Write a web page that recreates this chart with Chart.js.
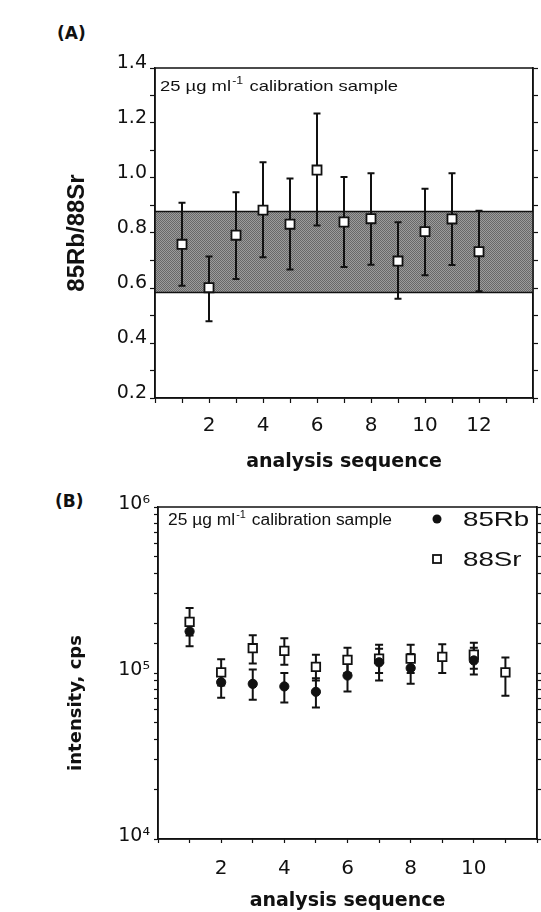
<!DOCTYPE html>
<html>
<head>
<meta charset="utf-8">
<script src="https://cdn.jsdelivr.net/npm/chart.js@4.4.1/dist/chart.umd.min.js"></script>
<style>
body{margin:0;background:#fff;width:541px;height:912px;overflow:hidden;position:relative;}
canvas{position:absolute;left:0;}
#chartA{top:0;}
#chartB{top:480px;}
.tag{position:absolute;font:bold 17px "DejaVu Sans";line-height:20px;color:#111;}
</style>
</head>
<body>
<div class="tag" style="left:57px;top:23px">(A)</div>
<div class="tag" style="left:55px;top:491px">(B)</div>
<canvas id="chartA" width="541" height="480"></canvas>
<canvas id="chartB" width="541" height="432"></canvas>
<script>
// ---------- panel A : 85Rb/88Sr ratio ----------
const seqA = [1, 2, 3, 4, 5, 6, 7, 8, 9, 10, 11, 12];
const ratio = [0.759, 0.601, 0.792, 0.883, 0.832, 1.029, 0.840, 0.852, 0.698, 0.805, 0.851, 0.732];
const ratioHi = [0.910, 0.715, 0.948, 1.057, 0.998, 1.235, 1.004, 1.017, 0.839, 0.961, 1.017, 0.881];
const ratioLo = [0.608, 0.479, 0.633, 0.712, 0.667, 0.827, 0.676, 0.685, 0.561, 0.646, 0.684, 0.588];
const bandA = [0.584, 0.878];
const xLabelsA = [2, 4, 6, 8, 10, 12];

// ---------- panel B : intensities ----------
const seqB = [1, 2, 3, 4, 5, 6, 7, 8, 9, 10, 11];
const rb = [1.78e5, 8.8e4, 8.6e4, 8.3e4, 7.7e4, 9.65e4, 1.16e5, 1.07e5, null, 1.19e5, null];
const rbHi = [2.1e5, 1.05e5, 1.05e5, 1.0e5, 9.3e4, 1.15e5, 1.4e5, 1.3e5, null, 1.42e5, null];
const rbLo = [1.45e5, 7.1e4, 6.9e4, 6.65e4, 6.2e4, 7.75e4, 9.0e4, 8.6e4, null, 9.8e4, null];
const sr = [2.03e5, 1.01e5, 1.41e5, 1.36e5, 1.09e5, 1.20e5, 1.22e5, 1.22e5, 1.25e5, 1.29e5, 1.01e5];
const srHi = [2.46e5, 1.21e5, 1.69e5, 1.62e5, 1.29e5, 1.42e5, 1.48e5, 1.48e5, 1.49e5, 1.52e5, 1.24e5];
const srLo = [1.68e5, 8.4e4, 1.14e5, 1.12e5, 9.0e4, 1.0e5, 1.0e5, 1.0e5, 1.0e5, 1.06e5, 7.3e4];
const xLabelsB = [2, 4, 6, 8, 10];
const decadeLabelsB = {4: '10\u2074', 5: '10\u2075', 6: '10\u2076'};

const calibText = ['25 \u00b5g ml', '-1', ' calibration sample'];
const INK = '#111';

function points(xs, ys, hi, lo){
    return xs.map((x, i) => ({x: x, y: ys[i], hi: hi[i], lo: lo[i]})).filter(p => p.y !== null);
}

// grey band behind panel A + closed frame
const bandPlugin = {
    id: 'band',
    beforeDatasetsDraw(chart, args, opts){
        const {ctx, chartArea: a, scales} = chart;
        ctx.save();
        if(opts.range){
            const t = scales.y.getPixelForValue(opts.range[1]);
            const b = scales.y.getPixelForValue(opts.range[0]);
            const pc = document.createElement('canvas');
            pc.width = 2; pc.height = 2;
            const p = pc.getContext('2d');
            p.fillStyle = '#9c9c9c'; p.fillRect(0, 0, 2, 2);
            p.fillStyle = '#686868'; p.fillRect(0, 0, 1, 1); p.fillRect(1, 1, 1, 1);
            ctx.fillStyle = ctx.createPattern(pc, 'repeat');
            ctx.fillRect(a.left, t, a.right - a.left, b - t);
            ctx.strokeStyle = INK; ctx.lineWidth = 1.5;
            ctx.beginPath();
            ctx.moveTo(a.left, t); ctx.lineTo(a.right, t);
            ctx.moveTo(a.left, b); ctx.lineTo(a.right, b);
            ctx.stroke();
        }
        ctx.strokeStyle = INK; ctx.lineWidth = 1.5;
        ctx.strokeRect(a.left, a.top, a.right - a.left, a.bottom - a.top);
        ctx.restore();
    }
};

// vertical error bars with caps
const errorPlugin = {
    id: 'errbars',
    beforeDatasetsDraw(chart){
        const {ctx, scales} = chart;
        chart.data.datasets.forEach(ds => {
            ctx.save();
            ctx.strokeStyle = INK;
            ctx.lineWidth = ds.errWidth || 2;
            const cap = ds.capHalf || 3.5;
            ds.data.forEach(p => {
                const x = scales.x.getPixelForValue(p.x);
                const t = scales.y.getPixelForValue(p.hi);
                const b = scales.y.getPixelForValue(p.lo);
                ctx.beginPath();
                ctx.moveTo(x, t); ctx.lineTo(x, b);
                ctx.moveTo(x - cap, t); ctx.lineTo(x + cap, t);
                ctx.moveTo(x - cap, b); ctx.lineTo(x + cap, b);
                ctx.stroke();
            });
            ctx.restore();
        });
    }
};

// in-plot texts: sample note, legend, side title
const notesPlugin = {
    id: 'notes',
    afterDatasetsDraw(chart, args, opts){
        const ctx = chart.ctx;
        ctx.save();
        ctx.fillStyle = INK;
        if(opts.calib){
            const c = opts.calib;
            const f = c.size + 'px "Liberation Sans"';
            const fs = Math.round(c.size * 0.65) + 'px "Liberation Sans"';
            ctx.textBaseline = 'alphabetic';
            ctx.font = f;
            const w1 = ctx.measureText(calibText[0]).width;
            const w3 = ctx.measureText(calibText[2]).width;
            ctx.font = fs;
            const w2 = ctx.measureText(calibText[1]).width + 2;
            ctx.save();
            ctx.translate(c.x, c.y);
            ctx.scale(c.width / (w1 + w2 + w3), 1);
            ctx.font = f; ctx.fillText(calibText[0], 0, 0);
            ctx.font = fs; ctx.fillText(calibText[1], w1 + 1, -c.size * 0.45);
            ctx.font = f; ctx.fillText(calibText[2], w1 + w2, 0);
            ctx.restore();
        }
        if(opts.legend){
            const lg = opts.legend;
            chart.data.datasets.forEach((ds, i) => {
                const y = lg.y + i * lg.gap;
                ctx.save();
                ctx.lineWidth = 1.8;
                ctx.strokeStyle = INK;
                if(ds.pointStyle === 'circle'){
                    ctx.fillStyle = INK;
                    ctx.beginPath(); ctx.arc(lg.mx, y, 4.5, 0, Math.PI * 2); ctx.fill();
                } else {
                    ctx.fillStyle = '#fff';
                    ctx.fillRect(lg.mx - 4, y - 4, 8, 8);
                    ctx.strokeRect(lg.mx - 4, y - 4, 8, 8);
                }
                ctx.restore();
                ctx.save();
                ctx.translate(lg.tx, y);
                ctx.scale(1.32, 1);
                ctx.font = '21px "Liberation Sans"';
                ctx.textBaseline = 'middle';
                ctx.fillText(ds.label, 0, 1);
                ctx.restore();
            });
        }
        if(opts.yTitle){
            const t = opts.yTitle;
            ctx.save();
            ctx.translate(t.x, t.y);
            ctx.rotate(-Math.PI / 2);
            ctx.font = 'bold 18px "DejaVu Sans"';
            ctx.textAlign = 'center';
            ctx.textBaseline = 'middle';
            ctx.fillText(t.text, 0, 0);
            ctx.restore();
        }
        ctx.restore();
    }
};

const tickFontA = {family: 'DejaVu Sans', size: 19};
const gridOff = {drawOnChartArea: false, drawTicks: true, tickLength: 5, color: INK, tickWidth: 1.2};

// ==================== PANEL A ====================
new Chart(document.getElementById('chartA'), {
    type: 'scatter',
    data: {
        datasets: [{
            label: '85Rb/88Sr',
            data: points(seqA, ratio, ratioHi, ratioLo),
            pointStyle: 'rect',
            pointRadius: 6.4,
            backgroundColor: '#fff',
            borderColor: INK,
            borderWidth: 1.8,
            errWidth: 2,
            capHalf: 3.5
        }]
    },
    options: {
        responsive: false,
        animation: false,
        devicePixelRatio: 1,
        layout: {autoPadding: false, padding: {left: 63, top: 68, right: 0, bottom: 0}},
        plugins: {
            legend: {display: false},
            tooltip: {enabled: false},
            band: {range: bandA},
            notes: {calib: {x: 160, y: 91, width: 238, size: 15}}
        },
        scales: {
            x: {
                type: 'linear', min: 0, max: 14,
                afterFit: s => { s.height = 82; },
                grid: gridOff,
                border: {color: INK, width: 1.5},
                ticks: {stepSize: 1, autoSkip: false, maxRotation: 0, padding: 2, color: INK,
                    font: {family: 'DejaVu Sans', size: 20, lineHeight: 2.05},
                    callback: v => xLabelsA.includes(v) ? v : ''},
                title: {display: true, text: 'analysis sequence', color: INK,
                    font: {family: 'DejaVu Sans', weight: 'bold', size: 19}, padding: {top: 0, bottom: 7}}
            },
            y: {
                type: 'linear', min: 0.2, max: 1.4,
                afterFit: s => { s.width = 92; },
                grid: gridOff,
                border: {color: INK, width: 1.5},
                ticks: {stepSize: 0.1, autoSkip: false, padding: 3, labelOffset: -5, color: INK, font: tickFontA,
                    callback: v => Math.round(v * 10) % 2 === 0 ? v.toFixed(1) : ''},
                title: {display: true, text: '85Rb/88Sr', color: INK,
                    font: {family: 'Liberation Sans', weight: 'bold', size: 24}, padding: {top: 0, bottom: 0}}
            },
            y2: {
                type: 'linear', position: 'right', min: 0.2, max: 1.4,
                afterFit: s => { s.width = 8; },
                grid: {drawOnChartArea: false, tickLength: 5, color: INK, tickWidth: 1.2},
                border: {color: INK, width: 1.5},
                ticks: {stepSize: 0.1, autoSkip: false, callback: () => ''}
            }
        }
    },
    plugins: [bandPlugin, errorPlugin, notesPlugin]
});

// ==================== PANEL B ====================
new Chart(document.getElementById('chartB'), {
    type: 'scatter',
    data: {
        datasets: [{
            label: '85Rb',
            data: points(seqB, rb, rbHi, rbLo),
            pointStyle: 'circle',
            pointRadius: 4.6,
            backgroundColor: INK,
            borderColor: INK,
            borderWidth: 1,
            errWidth: 2,
            capHalf: 4
        }, {
            label: '88Sr',
            data: points(seqB, sr, srHi, srLo),
            pointStyle: 'rect',
            pointRadius: 6,
            backgroundColor: '#fff',
            borderColor: INK,
            borderWidth: 1.8,
            errWidth: 2,
            capHalf: 4
        }]
    },
    options: {
        responsive: false,
        animation: false,
        devicePixelRatio: 1,
        layout: {autoPadding: false, padding: {left: 0, top: 27, right: 0, bottom: 0}},
        plugins: {
            legend: {display: false},
            tooltip: {enabled: false},
            band: {},
            notes: {
                calib: {x: 168, y: 45, width: 224, size: 16},
                legend: {mx: 437, tx: 463, y: 39, gap: 40},
                yTitle: {text: 'intensity, cps', x: 76, y: 223}
            }
        },
        scales: {
            x: {
                type: 'linear', min: 0, max: 12,
                afterFit: s => { s.height = 73; },
                grid: Object.assign({}, gridOff, {tickLength: 4}),
                border: {color: INK, width: 1.5},
                ticks: {stepSize: 1, autoSkip: false, maxRotation: 0, padding: 2, color: INK,
                    font: {family: 'DejaVu Sans', size: 20, lineHeight: 2.4},
                    callback: v => xLabelsB.includes(v) ? v : ''},
                title: {display: true, text: 'analysis sequence', color: INK,
                    font: {family: 'DejaVu Sans', weight: 'bold', size: 19}, padding: {top: 0, bottom: 0}}
            },
            y: {
                type: 'logarithmic', min: 1e4, max: 1e6,
                afterFit: s => { s.width = 158; },
                grid: Object.assign({}, gridOff, {tickLength: 4}),
                border: {color: INK, width: 1.5},
                ticks: {autoSkip: false, padding: 4, labelOffset: -3, color: INK, font: {family: 'DejaVu Sans', size: 19},
                    callback: v => {
                        const e = Math.log10(v);
                        return Math.abs(e - Math.round(e)) < 1e-9 ? (decadeLabelsB[Math.round(e)] || '') : '';
                    }}
            },
            y2: {
                type: 'logarithmic', position: 'right', min: 1e4, max: 1e6,
                afterFit: s => { s.width = 4; },
                grid: {drawOnChartArea: false, tickLength: 4, color: INK, tickWidth: 1.2},
                border: {color: INK, width: 1.5},
                ticks: {autoSkip: false, callback: () => ''}
            }
        }
    },
    plugins: [bandPlugin, errorPlugin, notesPlugin]
});
</script>
</body>
</html>
